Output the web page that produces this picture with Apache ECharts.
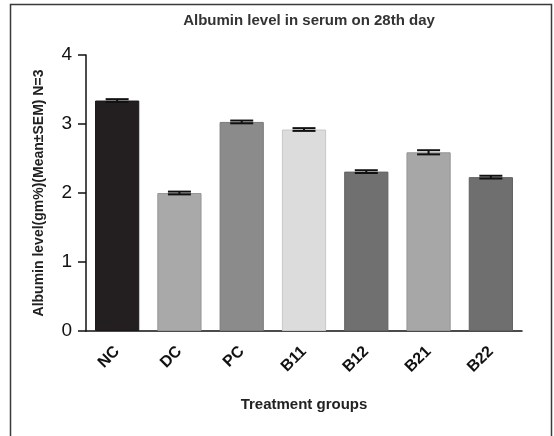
<!DOCTYPE html>
<html>
<head>
<meta charset="utf-8">
<script src="https://cdn.jsdelivr.net/npm/echarts@6/dist/echarts.min.js"></script>
<style>
  html, body { margin: 0; padding: 0; background: #fff; }
  #chart { width: 554px; height: 436px; }
</style>
</head>
<body>
<div id="chart"></div>
<script>
// Treatment groups and serum albumin (g%) on day 28, mean and SEM, n = 3
const groups = ['NC', 'DC', 'PC', 'B11', 'B12', 'B21', 'B22'];
const meanValues = [3.34, 2.00, 3.03, 2.92, 2.31, 2.59, 2.23];
const semValues = [0.02, 0.02, 0.02, 0.02, 0.02, 0.03, 0.02];
const barColors = ['#231f20', '#a9a9a9', '#8b8b8b', '#dcdcdc', '#707070', '#a7a7a7', '#6f6f6f'];
const borderColors = ['#1a1718', '#979797', '#7a7a7a', '#c8c8c8', '#626262', '#959595', '#606060'];
const yTicks = [0, 1, 2, 3, 4];

const fontFamily = 'Liberation Sans, Arial, sans-serif';
const chart = echarts.init(document.getElementById('chart'));

chart.setOption({
  animation: false,
  backgroundColor: '#fff',
  graphic: [{
    type: 'rect',
    shape: { x: 10.5, y: 4.5, width: 541, height: 440 },
    style: { fill: 'none', stroke: '#3a3a3a', lineWidth: 1.5 },
    silent: true
  }],
  title: {
    text: 'Albumin level in serum on 28th day',
    left: 304,
    textAlign: 'center',
    top: 8,
    textStyle: { fontFamily, fontSize: 15, fontWeight: 'bold', color: '#333' }
  },
  grid: { left: 86, top: 55, width: 436, height: 276, containLabel: false },
  xAxis: {
    type: 'category',
    data: groups,
    name: 'Treatment groups',
    nameLocation: 'middle',
    nameGap: 66,
    nameTextStyle: { fontFamily, fontSize: 15, fontWeight: 'bold', color: '#222' },
    axisLine: { lineStyle: { color: '#111', width: 1.5 } },
    axisTick: { alignWithLabel: true, length: 8, lineStyle: { color: '#111', width: 1.5 } },
    axisLabel: {
      rotate: 45, margin: 18, fontFamily, fontSize: 16, fontWeight: 'bold', color: '#111'
    }
  },
  yAxis: {
    type: 'value',
    min: yTicks[0],
    max: yTicks[yTicks.length - 1],
    interval: 1,
    name: 'Albumin level(gm%)(Mean±SEM) N=3',
    nameLocation: 'middle',
    nameGap: 40,
    nameTextStyle: { fontFamily, fontSize: 14, fontWeight: 'bold', color: '#222' },
    axisLine: { show: true, lineStyle: { color: '#111', width: 1.5 } },
    axisTick: { show: true, length: 8, lineStyle: { color: '#111', width: 1.5 } },
    axisLabel: { margin: 14, fontFamily, fontSize: 19, color: '#111' },
    splitLine: { show: false }
  },
  series: [
    {
      type: 'bar',
      barWidth: '71%',
      data: meanValues.map((v, i) => ({
        value: v,
        itemStyle: { color: barColors[i], borderColor: borderColors[i], borderWidth: 1 }
      })),
      z: 2
    },
    {
      type: 'custom',
      z: 3,
      data: meanValues.map((v, i) => [i, v - semValues[i], v + semValues[i]]),
      renderItem: function (params, api) {
        const lo = api.coord([api.value(0), api.value(1)]);
        const hi = api.coord([api.value(0), api.value(2)]);
        const half = 11.5;
        const style = { stroke: '#111', lineWidth: 2 };
        return {
          type: 'group',
          children: [
            { type: 'line', shape: { x1: lo[0], y1: lo[1], x2: hi[0], y2: hi[1] }, style },
            { type: 'line', shape: { x1: hi[0] - half, y1: hi[1], x2: hi[0] + half, y2: hi[1] }, style },
            { type: 'line', shape: { x1: lo[0] - half, y1: lo[1], x2: lo[0] + half, y2: lo[1] }, style }
          ]
        };
      }
    }
  ]
});
</script>
</body>
</html>
